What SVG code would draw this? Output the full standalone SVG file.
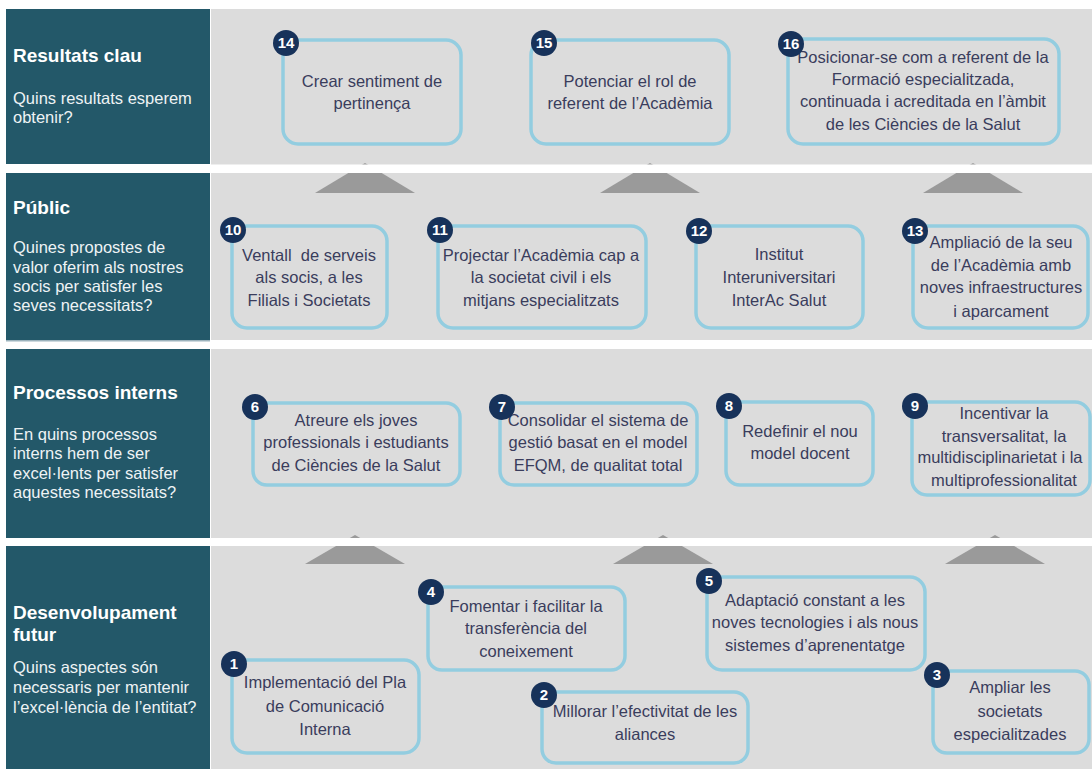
<svg xmlns="http://www.w3.org/2000/svg" width="1092" height="769" viewBox="0 0 1092 769">
<style>
.panel{fill:#235869}
.band{fill:#dcdcdc}
.gap{fill:#ffffff}
.tri{fill:#9a9a9a}
.ttl{font-family:"Liberation Sans",Arial,sans-serif;font-weight:bold;font-size:19px;fill:#ffffff}
.sub{font-family:"Liberation Sans",Arial,sans-serif;font-size:16.5px;fill:#eef3f5}
.box{fill:none;stroke:#93cde0;stroke-width:3.5}
.txt{font-family:"Liberation Sans",Arial,sans-serif;font-size:16.5px;fill:#3a3d5c;text-anchor:middle}
.badge{fill:#17325a}
.num{font-family:"Liberation Sans",Arial,sans-serif;font-weight:bold;font-size:15px;fill:#ffffff;text-anchor:middle}
</style>
<rect x="0" y="0" width="1092" height="769" fill="#ffffff"/>
<g id="bands">
<rect class="band" x="211" y="9" width="881" height="156"/>
<rect class="band" x="211" y="173" width="881" height="167"/>
<rect class="band" x="211" y="349" width="881" height="189"/>
<rect class="band" x="211" y="546" width="881" height="223"/>
</g>
<g id="connectors">
<polygon class="tri" points="365,163 315,193 415,193"/>
<polygon class="tri" points="650,163 600,193 700,193"/>
<polygon class="tri" points="973,163 923,193 1023,193"/>
<polygon class="tri" points="355,535 305,564 405,564"/>
<polygon class="tri" points="663,535 613,564 713,564"/>
<polygon class="tri" points="995,535 945,564 1045,564"/>
<rect class="gap" x="211" y="164.5" width="881" height="8.5"/>
<rect class="gap" x="211" y="538" width="881" height="8"/>
</g>
<g id="panel-resultats">
<rect class="panel" x="6" y="9" width="204" height="155"/>
<text class="ttl" x="13" y="62">Resultats clau</text>
<text class="sub" x="13" y="104">Quins resultats esperem</text>
<text class="sub" x="13" y="123">obtenir?</text>
</g>
<g id="panel-public">
<rect class="panel" x="6" y="173" width="204" height="167"/>
<text class="ttl" x="13" y="214">Públic</text>
<text class="sub" x="13" y="253">Quines propostes de</text>
<text class="sub" x="13" y="273">valor oferim als nostres</text>
<text class="sub" x="13" y="292">socis per satisfer les</text>
<text class="sub" x="13" y="311">seves necessitats?</text>
</g>
<g id="panel-processos">
<rect x="6" y="340" width="204" height="1.5" fill="#9cb3bd"/>
<rect class="panel" x="6" y="349" width="204" height="189"/>
<text class="ttl" x="13" y="399">Processos interns</text>
<text class="sub" x="13" y="440">En quins processos</text>
<text class="sub" x="13" y="459">interns hem de ser</text>
<text class="sub" x="13" y="479">excel·lents per satisfer</text>
<text class="sub" x="13" y="498">aquestes necessitats?</text>
</g>
<g id="panel-desenvolupament">
<rect class="panel" x="6" y="546" width="204" height="223"/>
<text class="ttl" x="13" y="619">Desenvolupament</text>
<text class="ttl" x="13" y="641">futur</text>
<text class="sub" x="13" y="673">Quins aspectes són</text>
<text class="sub" x="13" y="693">necessaris per mantenir</text>
<text class="sub" x="13" y="713">l’excel·lència de l’entitat?</text>
</g>
<g id="node14">
<rect class="box" x="283" y="40" width="178" height="104" rx="15"/>
<text class="txt" x="372" y="87">Crear sentiment de</text>
<text class="txt" x="372" y="109">pertinença</text>
<circle class="badge" cx="286" cy="43" r="13"/><text class="num" x="286" y="48">14</text>
</g>
<g id="node15">
<rect class="box" x="531" y="40" width="198" height="104" rx="15"/>
<text class="txt" x="630" y="87">Potenciar el rol de</text>
<text class="txt" x="630" y="109">referent de l’Acadèmia</text>
<circle class="badge" cx="544" cy="43" r="13"/><text class="num" x="544" y="48">15</text>
</g>
<g id="node16">
<rect class="box" x="788" y="39" width="271" height="105" rx="15"/>
<text class="txt" x="923" y="63">Posicionar-se com a referent de la</text>
<text class="txt" x="923" y="85">Formació especialitzada,</text>
<text class="txt" x="923" y="107">continuada i acreditada en l’àmbit</text>
<text class="txt" x="923" y="130">de les Ciències de la Salut</text>
<circle class="badge" cx="791" cy="44" r="13"/><text class="num" x="791" y="49">16</text>
</g>
<g id="node10">
<rect class="box" x="232" y="226" width="155" height="102" rx="15"/>
<text class="txt" x="309" y="261" xml:space="preserve">Ventall  de serveis</text>
<text class="txt" x="309" y="283">als socis, a les</text>
<text class="txt" x="309" y="306">Filials i Societats</text>
<circle class="badge" cx="233" cy="230" r="13"/><text class="num" x="233" y="235">10</text>
</g>
<g id="node11">
<rect class="box" x="438" y="226" width="208" height="102" rx="15"/>
<text class="txt" x="541" y="261">Projectar l’Acadèmia cap a</text>
<text class="txt" x="541" y="283">la societat civil i els</text>
<text class="txt" x="541" y="306">mitjans especialitzats</text>
<circle class="badge" cx="440" cy="230" r="13"/><text class="num" x="440" y="235">11</text>
</g>
<g id="node12">
<rect class="box" x="696" y="226" width="167" height="102" rx="15"/>
<text class="txt" x="779" y="260">Institut</text>
<text class="txt" x="779" y="283">Interuniversitari</text>
<text class="txt" x="779" y="306">InterAc Salut</text>
<circle class="badge" cx="699" cy="231" r="13"/><text class="num" x="699" y="236">12</text>
</g>
<g id="node13">
<rect class="box" x="913" y="226" width="175" height="102" rx="15"/>
<text class="txt" x="1001" y="248">Ampliació de la seu</text>
<text class="txt" x="1001" y="271">de l’Acadèmia amb</text>
<text class="txt" x="1001" y="293">noves infraestructures</text>
<text class="txt" x="1001" y="317">i aparcament</text>
<circle class="badge" cx="915" cy="231" r="13"/><text class="num" x="915" y="236">13</text>
</g>
<g id="node6">
<rect class="box" x="253" y="403" width="207" height="82" rx="14"/>
<text class="txt" x="356" y="426">Atreure els joves</text>
<text class="txt" x="356" y="448">professionals i estudiants</text>
<text class="txt" x="356" y="471">de Ciències de la Salut</text>
<circle class="badge" cx="255" cy="407" r="13"/><text class="num" x="255" y="412">6</text>
</g>
<g id="node7">
<rect class="box" x="500" y="403" width="197" height="82" rx="14"/>
<text class="txt" x="598" y="426">Consolidar el sistema de</text>
<text class="txt" x="598" y="448">gestió basat en el model</text>
<text class="txt" x="598" y="471">EFQM, de qualitat total</text>
<circle class="badge" cx="502" cy="407" r="13"/><text class="num" x="502" y="412">7</text>
</g>
<g id="node8">
<rect class="box" x="726" y="402" width="147" height="83" rx="14"/>
<text class="txt" x="800" y="437">Redefinir el nou</text>
<text class="txt" x="800" y="459">model docent</text>
<circle class="badge" cx="729" cy="406" r="13"/><text class="num" x="729" y="411">8</text>
</g>
<g id="node9">
<rect class="box" x="912" y="402" width="178" height="93" rx="15"/>
<text class="txt" x="1004" y="419">Incentivar la</text>
<text class="txt" x="1004" y="442">transversalitat, la</text>
<text class="txt" x="1000" y="463">multidisciplinarietat i la</text>
<text class="txt" x="1004" y="486">multiprofessionalitat</text>
<circle class="badge" cx="915" cy="406" r="13"/><text class="num" x="915" y="411">9</text>
</g>
<g id="node4">
<rect class="box" x="428" y="587" width="197" height="83" rx="14"/>
<text class="txt" x="526" y="612">Fomentar i facilitar la</text>
<text class="txt" x="526" y="634">transferència del</text>
<text class="txt" x="526" y="657">coneixement</text>
<circle class="badge" cx="431" cy="592" r="13"/><text class="num" x="431" y="597">4</text>
</g>
<g id="node5">
<rect class="box" x="707" y="577" width="218" height="93" rx="15"/>
<text class="txt" x="815" y="606">Adaptació constant a les</text>
<text class="txt" x="815" y="628">noves tecnologies i als nous</text>
<text class="txt" x="815" y="651">sistemes d’aprenentatge</text>
<circle class="badge" cx="709" cy="581" r="13"/><text class="num" x="709" y="586">5</text>
</g>
<g id="node1">
<rect class="box" x="232" y="660" width="187" height="93" rx="15"/>
<text class="txt" x="325" y="688">Implementació del Pla</text>
<text class="txt" x="325" y="712">de Comunicació</text>
<text class="txt" x="325" y="735">Interna</text>
<circle class="badge" cx="234" cy="664" r="13"/><text class="num" x="234" y="669">1</text>
</g>
<g id="node2">
<rect class="box" x="542" y="692" width="206" height="71" rx="14"/>
<text class="txt" x="645" y="717">Millorar l’efectivitat de les</text>
<text class="txt" x="645" y="740">aliances</text>
<circle class="badge" cx="544" cy="695" r="13"/><text class="num" x="544" y="700">2</text>
</g>
<g id="node3">
<rect class="box" x="933" y="671" width="156" height="82" rx="14"/>
<text class="txt" x="1010" y="693">Ampliar les</text>
<text class="txt" x="1010" y="717">societats</text>
<text class="txt" x="1010" y="740">especialitzades</text>
<circle class="badge" cx="937" cy="675" r="13"/><text class="num" x="937" y="680">3</text>
</g>
</svg>
